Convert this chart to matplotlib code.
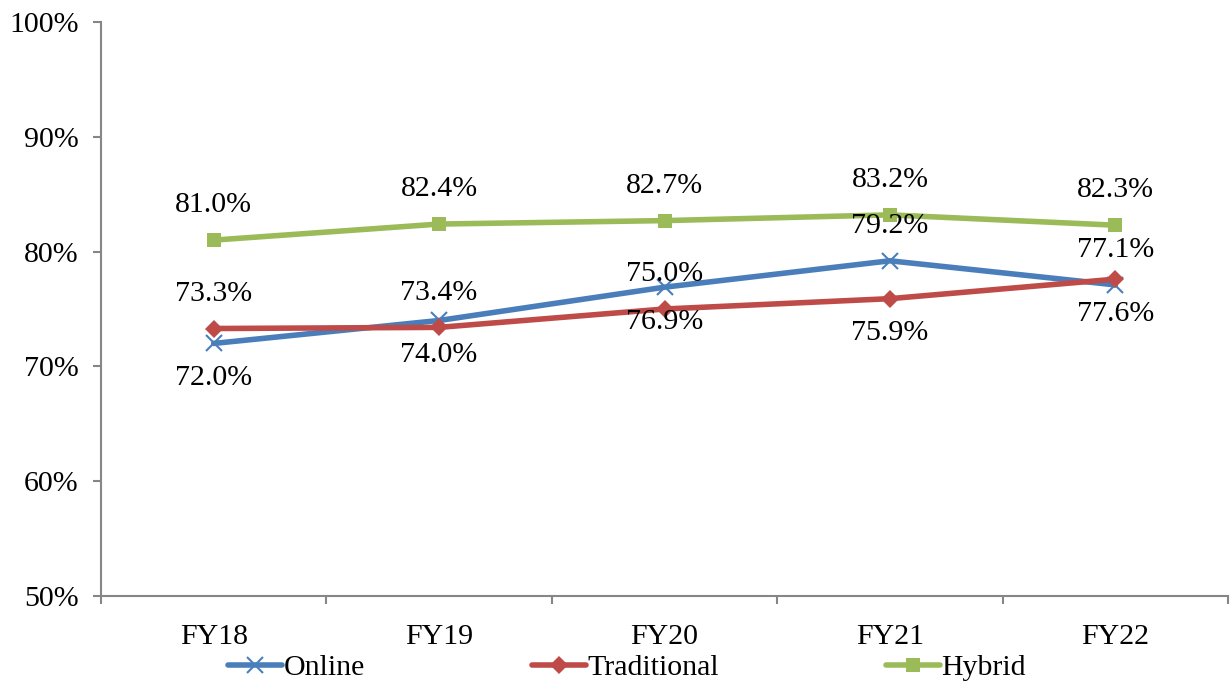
import matplotlib

matplotlib.use("Agg")
import matplotlib.pyplot as plt
import numpy as np

plt.rcParams["font.family"] = ["Liberation Serif", "DejaVu Serif"]

YEARS = ["FY18", "FY19", "FY20", "FY21", "FY22"]
ONLINE = [72.0, 74.0, 76.9, 79.2, 77.1]
TRADITIONAL = [73.3, 73.4, 75.0, 75.9, 77.6]
HYBRID = [81.0, 82.4, 82.7, 83.2, 82.3]

# label above (+1) or below (-1) each point
ONLINE_SIDE = [-1, -1, -1, 1, 1]
TRAD_SIDE = [1, 1, 1, -1, -1]
HYBRID_SIDE = [1, 1, 1, 1, 1]

SERIES = [
    ("Online", ONLINE, ONLINE_SIDE, "#4a7ebb", "x", 11),
    ("Traditional", TRADITIONAL, TRAD_SIDE, "#be4b48", "D", 9),
    ("Hybrid", HYBRID, HYBRID_SIDE, "#9bbb59", "s", 10.5),
]

FS = 21.5
GREY = "#868686"

fig = plt.figure(figsize=(12.3, 6.86), dpi=100)
ax = fig.add_axes([101 / 1230, 90 / 686, 1127 / 1230, 574 / 686])

x = np.arange(len(YEARS))
handles = []
for name, vals, side, color, marker, ms in SERIES:
    h, = ax.plot(x, vals, color=color, lw=4, marker=marker, ms=ms,
                 mew=1.5 if marker == "x" else 0, mec=color, label=name,
                 solid_capstyle="round")
    handles.append(h)
    for xi, v, s in zip(x, vals, side):
        ax.annotate(f"{v:.1f}%", (xi, v), xytext=(0, 25 * s),
                    textcoords="offset points", ha="center", va="center",
                    fontsize=FS)

ax.set_xlim(-0.5, len(YEARS) - 0.5)
ax.set_ylim(50, 100)
ax.set_yticks(np.arange(50, 101, 10))
ax.set_yticklabels([f"{v}%" for v in range(50, 101, 10)], fontsize=FS)
ax.set_xticks(x)
ax.set_xticklabels(YEARS, fontsize=FS)
ax.set_xticks(np.arange(-0.5, len(YEARS), 1.0), minor=True)
ax.tick_params(axis="x", which="major", length=0, pad=20)
ax.tick_params(axis="x", which="minor", length=6, width=1.5, color=GREY,
               direction="out")
ax.tick_params(axis="y", length=6, width=1.5, color=GREY, direction="out",
               pad=10)

for sp in ("top", "right"):
    ax.spines[sp].set_visible(False)
for sp in ("left", "bottom"):
    ax.spines[sp].set_color(GREY)
    ax.spines[sp].set_linewidth(1.5)

fig.legend(handles=handles, loc="center", bbox_to_anchor=(627 / 1230, 18 / 686),
           ncol=3, frameon=False, fontsize=FS, handlelength=1.8,
           handletextpad=0.05, columnspacing=5.6, borderpad=0)

fig.savefig("out.png", dpi=100)
